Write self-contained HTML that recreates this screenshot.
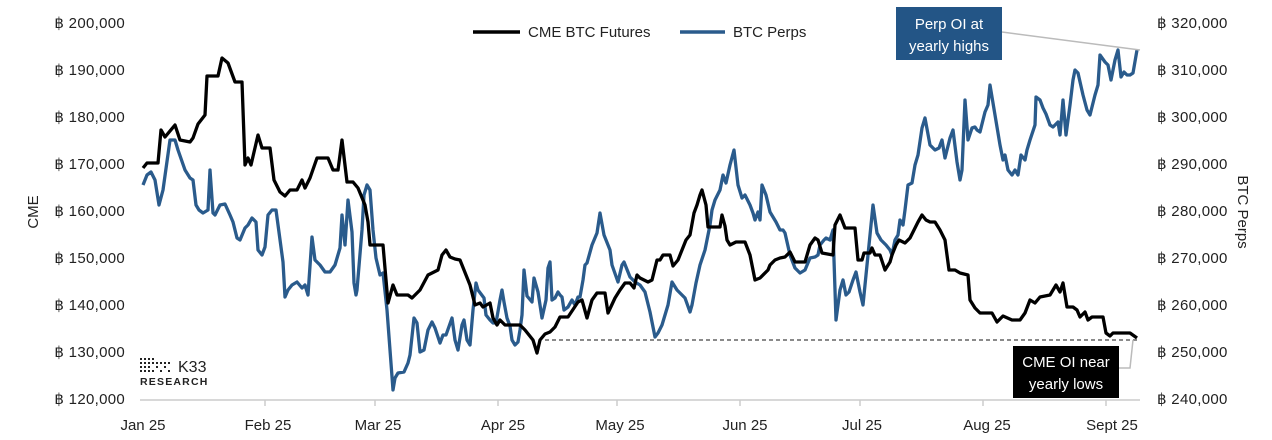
<!DOCTYPE html>
<html><head><meta charset="utf-8"><style>
body{margin:0;background:#fff;}
svg{display:block;font-family:"Liberation Sans",sans-serif;}
</style></head><body>
<svg width="1272" height="440" viewBox="0 0 1272 440">
<g font-size="15" fill="#222" text-anchor="end" letter-spacing="0.3">
<text x="125" y="28">฿ 200,000</text>
<text x="125" y="75">฿ 190,000</text>
<text x="125" y="122">฿ 180,000</text>
<text x="125" y="169">฿ 170,000</text>
<text x="125" y="216">฿ 160,000</text>
<text x="125" y="263">฿ 150,000</text>
<text x="125" y="310">฿ 140,000</text>
<text x="125" y="357">฿ 130,000</text>
<text x="125" y="404">฿ 120,000</text>
</g>
<g font-size="15" fill="#222" letter-spacing="0.3">
<text x="1157" y="28">฿ 320,000</text>
<text x="1157" y="75">฿ 310,000</text>
<text x="1157" y="122">฿ 300,000</text>
<text x="1157" y="169">฿ 290,000</text>
<text x="1157" y="216">฿ 280,000</text>
<text x="1157" y="263">฿ 270,000</text>
<text x="1157" y="310">฿ 260,000</text>
<text x="1157" y="357">฿ 250,000</text>
<text x="1157" y="404">฿ 240,000</text>
</g>
<text x="38" y="212" font-size="15" fill="#222" text-anchor="middle" transform="rotate(-90 38 212)">CME</text>
<text x="1238" y="212" font-size="15" fill="#222" text-anchor="middle" transform="rotate(90 1238 212)">BTC Perps</text>
<line x1="140" y1="400" x2="1140" y2="400" stroke="#ccc" stroke-width="1.5"/>
<g stroke="#ccc" stroke-width="1.5"><line x1="265" y1="400" x2="265" y2="406"/><line x1="375" y1="400" x2="375" y2="406"/><line x1="498" y1="400" x2="498" y2="406"/><line x1="617" y1="400" x2="617" y2="406"/><line x1="740" y1="400" x2="740" y2="406"/><line x1="860" y1="400" x2="860" y2="406"/><line x1="983" y1="400" x2="983" y2="406"/><line x1="1106" y1="400" x2="1106" y2="406"/></g>
<g font-size="15" fill="#222" text-anchor="middle">
<text x="143" y="430">Jan 25</text><text x="268" y="430">Feb 25</text><text x="378" y="430">Mar 25</text><text x="503" y="430">Apr 25</text><text x="620" y="430">May 25</text><text x="745" y="430">Jun 25</text><text x="862" y="430">Jul 25</text><text x="987" y="430">Aug 25</text><text x="1112" y="430">Sept 25</text>
</g>
<line x1="473" y1="32" x2="520" y2="32" stroke="#000" stroke-width="3.5"/>
<text x="528" y="37" font-size="15" fill="#222">CME BTC Futures</text>
<line x1="680" y1="32" x2="725" y2="32" stroke="#2a5b8c" stroke-width="3.5"/>
<text x="733" y="37" font-size="15" fill="#222">BTC Perps</text>
<line x1="545" y1="340" x2="1137" y2="340" stroke="#444" stroke-width="1.2" stroke-dasharray="4,3"/>
<polyline fill="none" stroke="#2a5b8c" stroke-width="3.3" stroke-linejoin="round" points="143,185 147,175 151,172 155,180 159,205 163,190 170,140 175,140 178,150 185,170 190,178 193,180 196,205 199,210 203,213 208,210 210,170 213,213 215,215 220,205 225,204 230,215 233,222 237,238 240,240 245,228 248,225 252,218 256,222 258,250 262,255 265,247 268,215 272,210 276,210 283,262 285,297 288,290 292,285 297,282 302,288 305,285 308,295 312,237 315,260 320,265 325,272 330,272 335,265 340,248 342,215 345,245 348,200 352,232 354,283 356,295 357,290 362,230 364,195 367,185 370,190 373,230 376,258 380,275 383,273 387,310 393,390 395,378 398,373 404,372 408,363 410,355 414,318 417,323 420,352 424,350 428,330 432,322 435,328 440,343 443,335 446,335 452,318 455,340 458,350 462,325 464,320 467,340 470,345 473,310 476,283 478,290 484,298 486,315 490,320 493,323 496,323 500,300 502,290 504,302 507,318 510,326 512,340 515,345 518,342 520,330 522,315 524,270 527,296 532,302 534,278 538,292 542,318 546,300 548,268 550,262 552,300 555,298 558,292 560,295 562,297 564,310 568,307 572,300 575,305 578,297 580,297 583,280 585,265 587,263 592,245 597,233 600,213 604,235 610,250 612,265 618,282 622,265 624,262 630,277 635,282 640,285 645,292 650,312 655,337 658,333 662,325 668,305 672,282 677,290 680,293 685,298 690,312 692,305 696,283 700,265 705,250 710,225 712,210 715,200 720,190 723,175 726,183 730,165 734,150 738,185 742,198 745,195 750,205 753,213 755,220 758,212 760,220 762,185 766,195 770,212 776,222 780,230 783,230 785,233 790,255 795,268 800,273 805,270 810,258 815,257 818,255 820,245 824,240 826,238 830,240 833,230 836,320 840,290 843,280 846,295 849,292 853,280 856,272 860,292 863,305 866,275 870,235 873,205 877,233 881,240 886,245 890,250 892,255 895,240 898,235 900,220 903,225 905,210 908,185 912,183 915,165 918,155 922,128 925,118 930,145 935,150 939,148 942,140 945,158 950,138 953,130 957,162 960,180 962,170 965,100 968,140 972,128 975,127 977,130 980,132 985,112 988,105 990,85 995,115 1000,145 1003,160 1005,155 1008,170 1012,175 1015,170 1018,175 1021,155 1025,160 1027,150 1030,140 1035,125 1036,97 1040,100 1043,108 1046,114 1050,125 1053,127 1058,122 1060,135 1063,100 1066,135 1070,105 1073,80 1075,70 1078,73 1083,95 1087,110 1090,115 1095,95 1098,85 1100,55 1105,62 1108,65 1111,80 1115,60 1118,50 1121,77 1124,72 1127,75 1130,75 1133,73 1137,50"/>
<polyline fill="none" stroke="#000" stroke-width="3.3" stroke-linejoin="round" points="143,168 147,163 158,163 161,130 165,137 175,125 180,140 190,142 193,138 198,124 205,115 207,76 218,76 222,58 228,63 235,82 242,82 245,165 248,158 251,165 258,135 262,148 270,148 274,180 280,192 285,196 290,190 297,190 302,180 305,188 310,178 317,158 328,158 333,170 338,170 342,140 347,182 353,182 358,188 365,205 368,222 370,245 375,245 383,245 388,303 393,285 397,295 408,295 412,298 420,290 428,275 438,270 442,255 446,250 450,257 455,259 460,260 466,275 470,285 475,305 480,303 483,307 490,303 493,318 497,325 500,320 505,325 520,325 525,330 533,340 537,353 540,340 545,334 550,332 555,327 560,317 568,317 578,302 582,300 587,318 592,300 597,293 605,293 608,313 615,298 620,290 625,283 630,283 634,288 637,275 640,278 648,282 652,280 657,260 660,260 663,255 670,255 673,266 678,260 686,240 690,235 694,213 697,205 700,195 702,190 706,205 708,227 720,227 722,215 725,226 727,240 730,245 736,242 745,242 750,255 755,280 760,278 768,270 770,265 775,260 780,258 785,257 790,252 795,262 805,262 810,245 815,238 818,240 822,253 833,255 835,225 840,215 845,228 855,228 858,260 862,260 864,253 870,253 872,248 875,255 880,255 885,270 890,262 892,255 896,245 899,240 905,243 910,238 914,230 918,222 922,215 926,220 930,222 935,222 940,230 945,240 949,270 955,270 960,273 968,275 970,300 975,308 980,313 992,313 997,322 1003,316 1012,320 1020,320 1025,313 1030,300 1035,303 1040,297 1050,295 1053,290 1056,285 1060,292 1063,283 1067,307 1073,307 1077,310 1080,317 1085,312 1088,320 1092,317 1103,317 1106,333 1110,336 1113,333 1130,333 1137,338"/>
<line x1="1002" y1="32" x2="1140" y2="50" stroke="#bbb" stroke-width="1.5"/>
<rect x="896" y="7" width="106" height="53" fill="#235586"/>
<text x="949" y="29" font-size="15" fill="#fff" text-anchor="middle">Perp OI at</text>
<text x="949" y="51" font-size="15" fill="#fff" text-anchor="middle">yearly highs</text>
<polyline points="1119,368 1130,368 1133,340" fill="none" stroke="#bbb" stroke-width="1.5"/>
<rect x="1013" y="346" width="106" height="52" fill="#000"/>
<text x="1066" y="367" font-size="15" fill="#fff" text-anchor="middle">CME OI near</text>
<text x="1066" y="389" font-size="15" fill="#fff" text-anchor="middle">yearly lows</text>
<g fill="#222">
<g>
<rect x="140" y="358" width="2" height="2"/><rect x="144" y="358" width="2" height="2"/><rect x="148" y="358" width="2" height="2"/><rect x="152" y="358" width="2" height="2"/>
<rect x="140" y="362" width="2" height="2"/><rect x="144" y="362" width="2" height="2"/><rect x="148" y="362" width="2" height="2"/><rect x="152" y="362" width="2" height="2"/><rect x="156" y="362" width="2" height="2"/><rect x="160" y="362" width="2" height="2"/><rect x="164" y="362" width="2" height="2"/><rect x="168" y="362" width="2" height="2"/>
<rect x="140" y="366" width="2" height="2"/><rect x="144" y="366" width="2" height="2"/><rect x="148" y="366" width="2" height="2"/><rect x="156" y="366" width="2" height="2"/><rect x="164" y="366" width="2" height="2"/>
<rect x="140" y="370" width="2" height="2"/><rect x="144" y="370" width="2" height="2"/><rect x="148" y="370" width="2" height="2"/><rect x="152" y="370" width="2" height="2"/><rect x="160" y="370" width="2" height="2"/><rect x="168" y="370" width="2" height="2"/>
</g>
<text x="178" y="372" font-size="16">K33</text>
<text x="140" y="385" font-size="10.5" font-weight="bold" letter-spacing="1.2">RESEARCH</text>
</g>
</svg>
</body></html>
